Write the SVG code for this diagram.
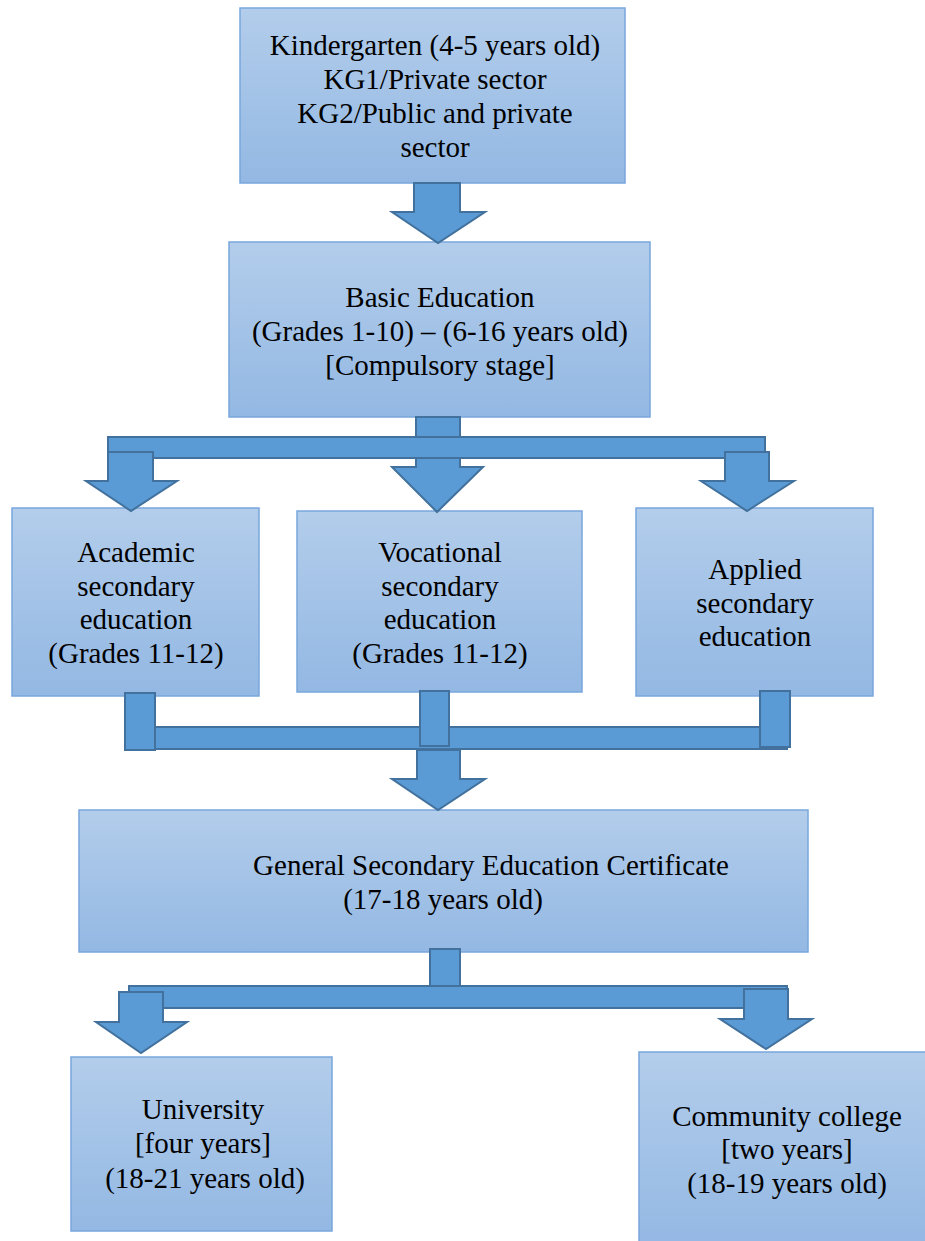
<svg xmlns="http://www.w3.org/2000/svg" width="925" height="1241" viewBox="0 0 925 1241">
<defs>
<linearGradient id="bg" x1="0" y1="0" x2="0" y2="1">
<stop offset="0" stop-color="#b3cdeb"/>
<stop offset="1" stop-color="#93b8e3"/>
</linearGradient>
</defs>
<style>
.box{fill:url(#bg);stroke:#78a7dc;stroke-width:1.5}
.t{font-family:"Liberation Serif","Times New Roman",serif;font-size:29px;fill:#000;text-anchor:middle}
.a{fill:#5b9bd5;stroke:#41719c;stroke-width:2;stroke-linejoin:miter}
</style>
<rect width="925" height="1241" fill="#fff"/>
<g id="kindergarten">
<rect class="box" x="240" y="8" width="385" height="175"/>
<text class="t" x="435" y="55">Kindergarten (4-5 years old)</text>
<text class="t" x="435" y="89">KG1/Private sector</text>
<text class="t" x="435" y="123">KG2/Public and private</text>
<text class="t" x="435" y="157">sector</text>
</g>
<g id="basic">
<rect class="box" x="229" y="242" width="421" height="175"/>
<text class="t" x="440" y="307">Basic Education</text>
<text class="t" x="440" y="341">(Grades 1-10) – (6-16 years old)</text>
<text class="t" x="440" y="375">[Compulsory stage]</text>
</g>
<g id="academic">
<rect class="box" x="12" y="508" width="247" height="188"/>
<text class="t" x="136" y="562">Academic</text>
<text class="t" x="136" y="596">secondary</text>
<text class="t" x="136" y="629">education</text>
<text class="t" x="136" y="663">(Grades 11-12)</text>
</g>
<g id="vocational">
<rect class="box" x="297" y="511" width="285" height="181"/>
<text class="t" x="440" y="562">Vocational</text>
<text class="t" x="440" y="596">secondary</text>
<text class="t" x="440" y="629">education</text>
<text class="t" x="440" y="663">(Grades 11-12)</text>
</g>
<g id="applied">
<rect class="box" x="636" y="508" width="237" height="188"/>
<text class="t" x="755" y="579">Applied</text>
<text class="t" x="755" y="613">secondary</text>
<text class="t" x="755" y="646">education</text>
</g>
<g id="general">
<rect class="box" x="79" y="810" width="729" height="142"/>
<text class="t" x="491" y="875">General Secondary Education Certificate</text>
<text class="t" x="443" y="909">(17-18 years old)</text>
</g>
<g id="university">
<rect class="box" x="71" y="1057" width="261" height="174"/>
<text class="t" x="203" y="1119">University</text>
<text class="t" x="203" y="1153">[four years]</text>
<text class="t" x="205" y="1188">(18-21 years old)</text>
</g>
<g id="community">
<rect class="box" x="639" y="1052" width="292" height="195"/>
<text class="t" x="787" y="1126">Community college</text>
<text class="t" x="787" y="1159">[two years]</text>
<text class="t" x="787" y="1193">(18-19 years old)</text>
</g>
<g id="connectors">
<polygon class="a" points="414,183 460,183 460,212 485,212 438,243 392,212 414,212"/>
<rect class="a" x="416" y="417" width="44" height="22"/>
<rect class="a" x="108" y="437" width="657" height="21"/>
<polygon class="a" points="108,452 153,452 153,481 177,481 131,511 86,481 108,481"/>
<polygon class="a" points="416,458 460,458 460,467 483,467 437,512 392,467 416,467"/>
<polygon class="a" points="725,452 769,452 769,481 794,481 747,511 701,481 725,481"/>
<rect class="a" x="125" y="727" width="662" height="22"/>
<rect class="a" x="125" y="693" width="30" height="57"/>
<rect class="a" x="420" y="691" width="29" height="55"/>
<rect class="a" x="760" y="691" width="30" height="56"/>
<polygon class="a" points="417,750 460,750 460,779 485,779 438,810 392,779 417,779"/>
<rect class="a" x="430" y="949" width="30" height="38"/>
<rect class="a" x="129" y="986" width="658" height="22"/>
<polygon class="a" points="119,992 163,992 163,1022 187,1022 141,1053 96,1022 119,1022"/>
<polygon class="a" points="744,989 788,989 788,1019 812,1019 766,1049 720,1019 744,1019"/>
</g>
</svg>
